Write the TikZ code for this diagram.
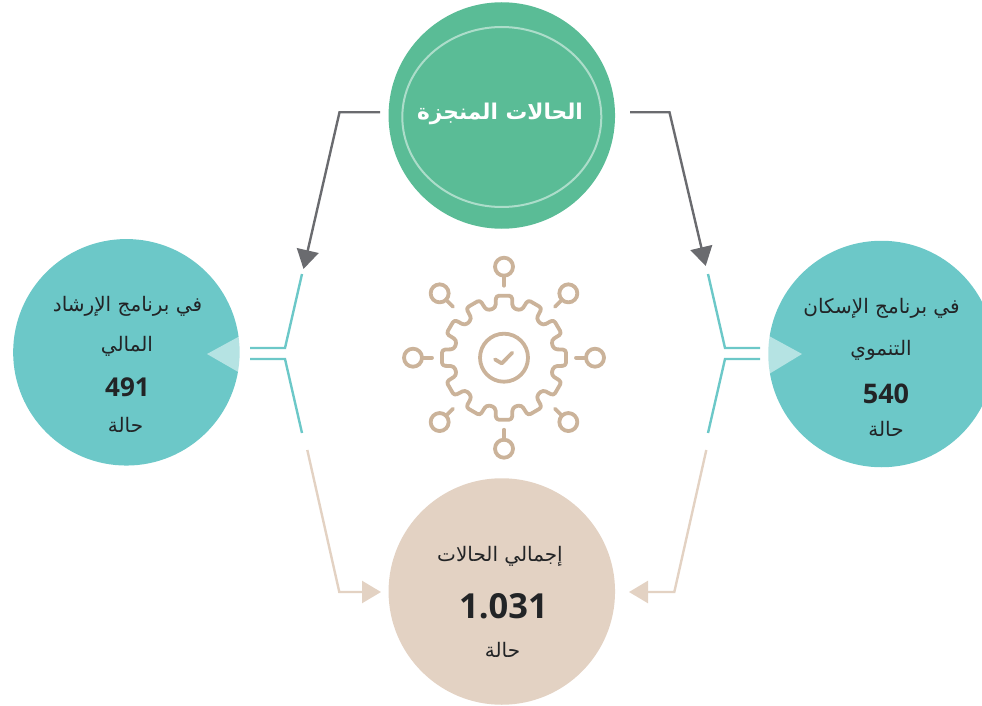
\documentclass[tikz,border=0pt]{standalone}
\usepackage{fontspec}
\TeXXeTstate=1
\newfontfamily\arabicfont[Script=Arabic]{DejaVu Sans}
\newfontfamily\numfont{Open Sans}
\definecolor{grn}{HTML}{5ABC96}
\definecolor{teal}{HTML}{6CC8C8}
\definecolor{sand}{HTML}{E3D2C3}
\definecolor{gearc}{HTML}{CBB39A}
\definecolor{greyc}{HTML}{6A6B6F}
\definecolor{ink}{HTML}{222426}
\usetikzlibrary{arrows.meta}
\tikzset{
  x=1pt,y=-1pt,
  disc/.style={circle,minimum size=226.5pt,inner sep=0pt,fill=#1},
  lbl/.style={text=ink,font=\arabicfont\fontsize{20}{24}\selectfont,inner sep=0pt},
  num/.style={text=ink,font=\numfont\bfseries\fontsize{#1}{#1}\selectfont,inner sep=0pt},
  tealline/.style={draw=teal,line width=2.4pt},
  greyarrow/.style={draw=greyc,line width=2.4pt,-{Triangle[length=19pt,width=22pt]}},
  sandarrow/.style={draw=sand,line width=2.4pt,-{Triangle[length=19pt,width=22pt]}},
  gearline/.style={draw=gearc,line width=3.8pt,line cap=round,line join=round},
}
\begin{document}
\begin{tikzpicture}
\useasboundingbox (0,0) rectangle (982,706);
\clip (0,0) rectangle (982,706);
\node[disc=grn] (top) at (501.8,115.5) {};
\node[disc=teal] (left) at (126.4,352.3) {};
\node[disc=teal] (right) at (881.5,354) {};
\node[disc=sand] (bottom) at (501.8,591.5) {};
\draw[draw=white,opacity=.5,line width=2pt] (501.8,117) ellipse[x radius=99.5,y radius=90];
\node[text=white,font=\arabicfont\bfseries\fontsize{21.7}{26}\selectfont,inner sep=0pt] (toplabel) at (500,114) {\beginR الحالات المنجزة\endR};
\fill[white,opacity=.5] (240,336) -- (207,354) -- (240,373) arc[start angle=9,end angle=-9,radius=113] -- cycle;
\fill[white,opacity=.5] (769,336) -- (802,354) -- (769,374) arc[start angle=170,end angle=190,radius=113] -- cycle;
\node[lbl] (l1) at (127.5,306) {\beginR في برنامج الإرشاد\endR};
\node[lbl] (l2) at (127,346) {\beginR المالي\endR};
\node[num=26] (l3) at (127.5,387) {491};
\node[lbl] (l4) at (125.5,425) {\beginR حالة\endR};
\node[lbl] (r1) at (881.5,308) {\beginR في برنامج الإسكان\endR};
\node[lbl] (r2) at (881,350) {\beginR التنموي\endR};
\node[num=27] (r3) at (886,394) {540};
\node[lbl] (r4) at (886,429) {\beginR حالة\endR};
\node[lbl] (b1) at (500,556) {\beginR إجمالي الحالات\endR};
\node[num=34.5] (b2) at (503.5,606) {1.031};
\node[lbl] (b4) at (502.5,650) {\beginR حالة\endR};
\coordinate (tl0) at (380,112.3);\coordinate (tl1) at (339.5,112.3);\coordinate (tl2) at (303.5,269);
\coordinate (tr0) at (630,112.3);\coordinate (tr1) at (669.5,112.3);\coordinate (tr2) at (705.7,266);
\draw[greyarrow] (tl0) -- (tl1) -- (tl2);
\draw[greyarrow] (tr0) -- (tr1) -- (tr2);
\coordinate (la) at (302,274);\coordinate (lb) at (285,348);\coordinate (lc) at (250,348);
\coordinate (ld) at (250,359);\coordinate (le) at (285,359);\coordinate (lf) at (302,433);
\draw[tealline] (la) -- (lb) -- (lc);
\draw[tealline] (ld) -- (le) -- (lf);
\coordinate (ra) at (708,274);\coordinate (rb) at (725,348);\coordinate (rc) at (760,348);
\coordinate (rd) at (760,359);\coordinate (re) at (725,359);\coordinate (rf) at (708,433);
\draw[tealline] (ra) -- (rb) -- (rc);
\draw[tealline] (rd) -- (re) -- (rf);
\coordinate (sa) at (307.3,450);\coordinate (sb) at (339.3,592);\coordinate (sc) at (381,592);
\coordinate (sd) at (706.3,450);\coordinate (se) at (674.3,592);\coordinate (sf) at (629,592);
\draw[sandarrow] (sa) -- (sb) -- (sc);
\draw[sandarrow] (sd) -- (se) -- (sf);
% gear icon
\begin{scope}[shift={(504,357.7)}]
\draw[gearline] (0,0) circle (24);
\draw[gearline] (-9,1.7) -- (-2.3,5.7) -- (8.3,-5);
\foreach \a in {0,30,...,330}{
  \begin{scope}[rotate=\a]
  \draw[gearline,rounded corners=3pt] (-12.9,-48.3) -- (-8.5,-50) -- (-8,-62) -- (8,-62) -- (8.5,-50) -- (12.9,-48.3);
  \end{scope}
}
\foreach \a in {0,45,...,315}{
  \draw[gearline] (\a:72) -- (\a:82);
  \draw[gearline] (\a:91) circle (9);
}
\end{scope}
\end{tikzpicture}
\end{document}
